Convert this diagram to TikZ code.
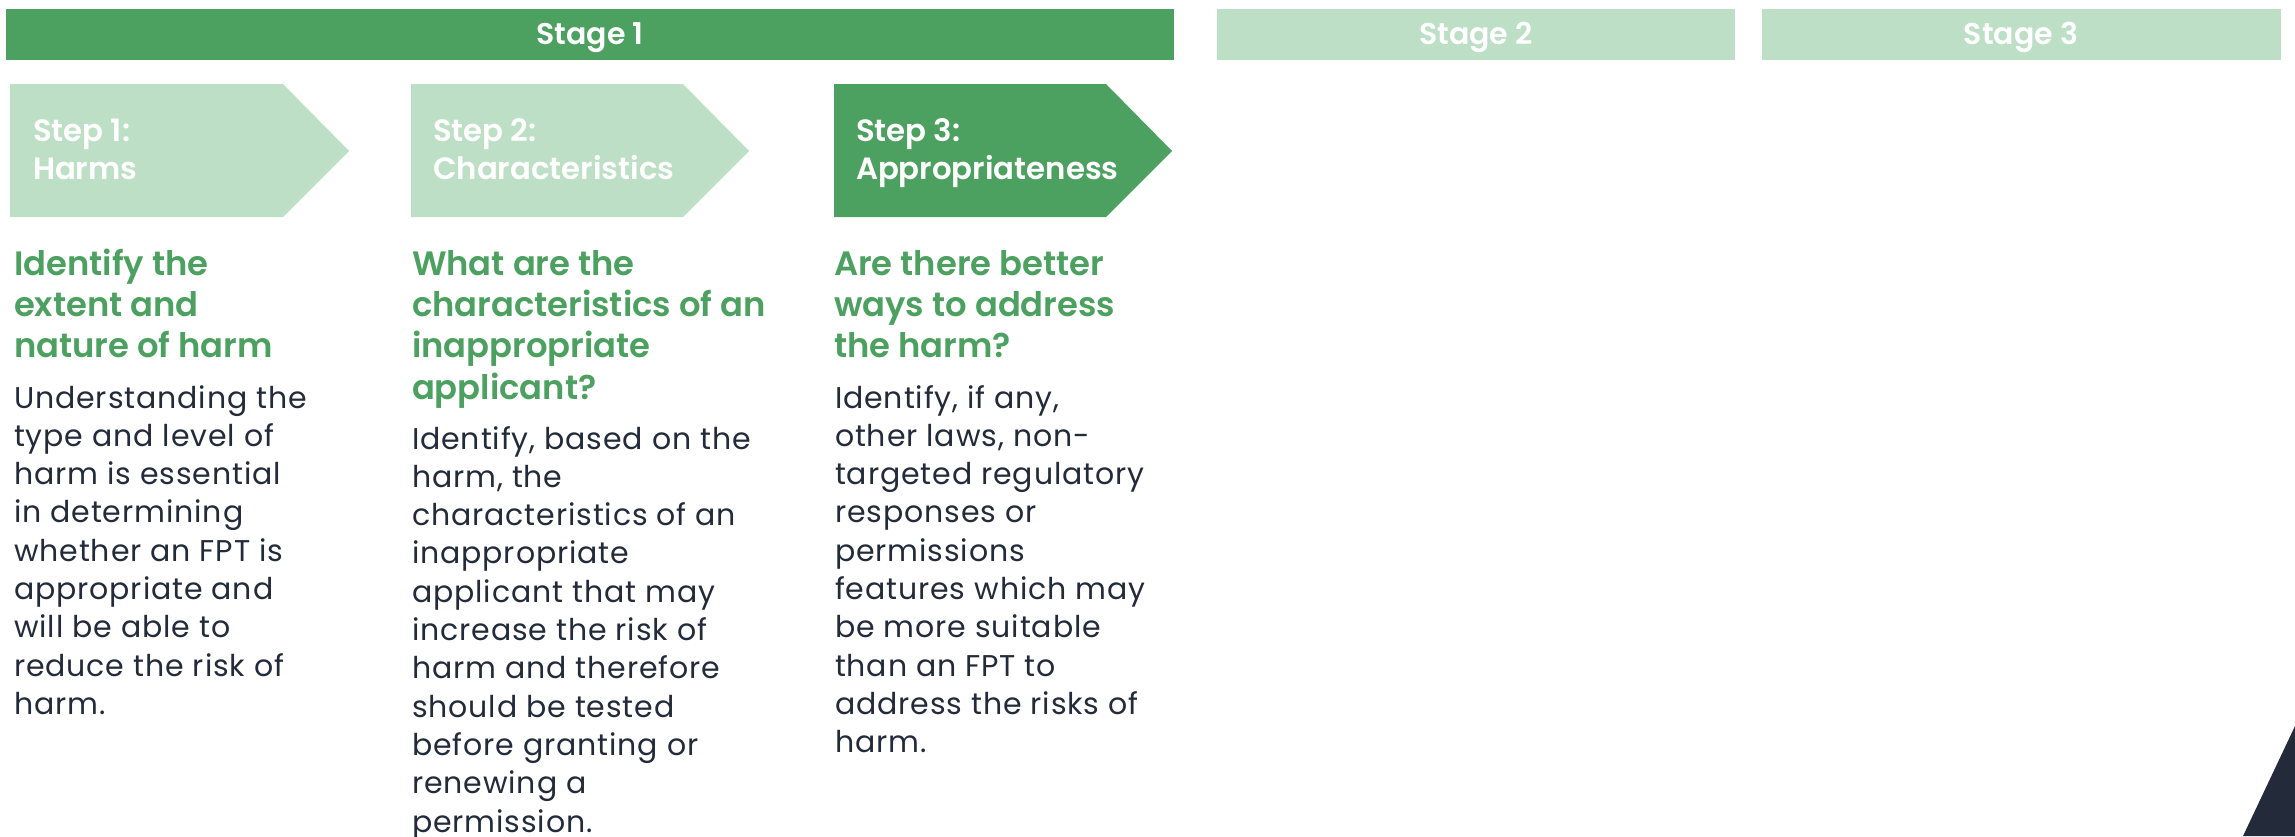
\documentclass[tikz,border=0pt]{standalone}
\usepackage{fontspec}
\setmainfont{Poppins}[BoldFont={Poppins SemiBold}]
\newfontfamily\bodyfont{Poppins}[LetterSpace=3]
\definecolor{dkgreen}{HTML}{4CA060}
\definecolor{ltgreen}{HTML}{BDDFC6}
\definecolor{navy}{HTML}{232B3A}
\newcommand\textlines[6]{%
  \foreach \t [count=\i from 0] in {#6} {
    \node[#5, anchor=base west] (#1-\i) at (#2, #3+\i*#4) {\t};
  }%
}
\begin{document}
\begin{tikzpicture}[x=0.5pt, y=-0.5pt,
  every node/.style={inner sep=0pt, outer sep=0pt},
  stagetxt/.style={font=\bfseries\fontsize{15pt}{18pt}\selectfont, text=white, anchor=base},
  steptxt/.style={font=\bfseries\fontsize{15.4pt}{19pt}\selectfont, text=white},
  headtxt/.style={font=\bfseries\fontsize{16.9pt}{20pt}\selectfont, text=dkgreen},
  bodytxt/.style={font=\bodyfont\fontsize{15pt}{18pt}\selectfont, text=navy}]
\useasboundingbox (0,0) rectangle (2295,836);
% stage bars
\fill[dkgreen] (6,9) rectangle (1174,60);
\fill[ltgreen] (1217,9) rectangle (1735,60);
\fill[ltgreen] (1762,9) rectangle (2281,60);
\node[stagetxt] (stage1) at (590,44) {Stage 1};
\node[stagetxt] (stage2) at (1476,44) {Stage 2};
\node[stagetxt] (stage3) at (2021,44) {Stage 3};
% step chevrons
\fill[ltgreen] (10,84) -- (283,84) -- (349,151) -- (283,217) -- (10,217) -- cycle;
\fill[ltgreen] (411,84) -- (683,84) -- (749,151) -- (683,217) -- (411,217) -- cycle;
\fill[dkgreen] (834,84) -- (1106,84) -- (1172,151) -- (1106,217) -- (834,217) -- cycle;
\textlines{st1}{33}{141}{38}{steptxt}{{Step 1:},{Harms}}
\textlines{st2}{433}{141}{38}{steptxt}{{Step 2:},{Characteristics}}
\textlines{st3}{856}{141}{38}{steptxt}{{Step 3:},{Appropriateness}}
% headings
\textlines{h1}{14}{275}{41.4}{headtxt}{{Identify the},{extent and},{nature of harm}}
\textlines{h2}{412}{275}{41.4}{headtxt}{{What are the},{characteristics of an},{inappropriate},{applicant?}}
\textlines{h3}{834}{275}{41.4}{headtxt}{{Are there better},{ways to address},{the harm?}}
% bodies
\textlines{b1}{14}{408}{38.3}{bodytxt}{{Understanding the},{type and level of},{harm is essential},{in determining},{whether an FPT is},{appropriate and},{will be able to},{reduce the risk of},{harm.}}
\textlines{b2}{412}{449}{38.3}{bodytxt}{{Identify, based on the},{harm, the},{characteristics of an},{inappropriate},{applicant that may},{increase the risk of},{harm and therefore},{should be tested},{before granting or},{renewing a},{permission.}}
\textlines{b3}{835}{408}{38.3}{bodytxt}{{Identify, if any,},{other laws, non-},{targeted regulatory},{responses or},{permissions},{features which may},{be more suitable},{than an FPT to},{address the risks of},{harm.}}
% corner triangle
\fill[navy] (2243,836) -- (2295,726) -- (2295,836) -- cycle;
\end{tikzpicture}
\end{document}
